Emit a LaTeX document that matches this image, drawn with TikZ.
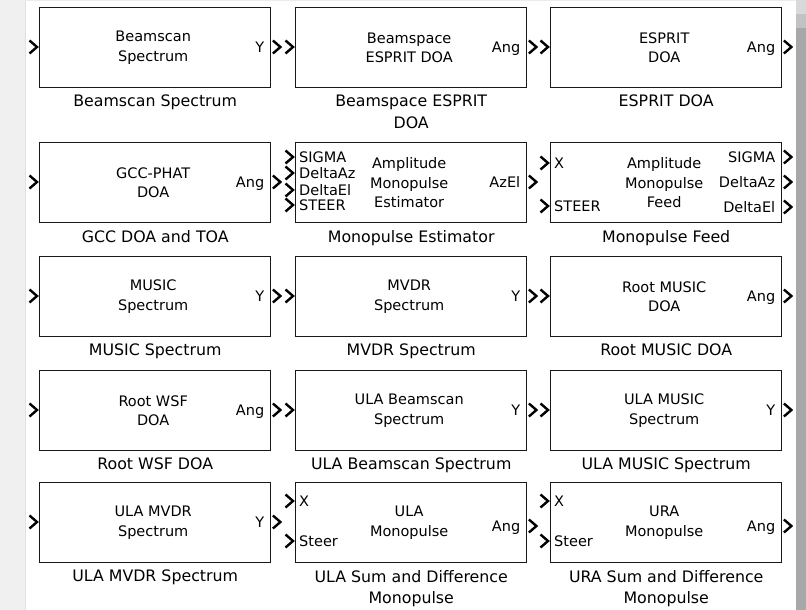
\documentclass[tikz,border=0pt]{standalone}
\usepackage{fontspec}
\setmainfont{DejaVu Sans}
\tikzset{
  blk/.style={draw=black!90, line width=1.4pt, fill=white, minimum width=231pt, minimum height=80pt, anchor=north west, inner sep=0pt},
  intext/.style={font=\fontsize{14.5}{19.5}\selectfont, align=center, text=black, inner sep=0pt},
  port/.style={font=\fontsize{14.5}{16}\selectfont, text=black, inner sep=0pt, text height=10.5pt, text depth=0pt},
  lbl/.style={font=\fontsize{15.8}{21.5}\selectfont, align=center, text=black, inner sep=0pt, anchor=north},
  chev/.style={line width=2.4pt, black, line join=miter, miter limit=10},
}
\newcommand\simblk[4]{%
  \node[blk] (#1) at (#2) {};
  \node[intext] (#1t) at ([shift={(-2,0)}]#1.center) {#3};
  \node[lbl] (#1l) at ([shift={(0,6.5)}]#1.south) {#4};}
\newcommand\ipt[2]{\draw[chev] ([shift={(-9.5,#2-6.5)}]#1.north west) -- ([shift={(-2,#2)}]#1.north west) -- ([shift={(-9.5,#2+6.5)}]#1.north west);}
\newcommand\opt[2]{\draw[chev] ([shift={(1.5,#2-6.5)}]#1.north east) -- ([shift={(9,#2)}]#1.north east) -- ([shift={(1.5,#2+6.5)}]#1.north east);}
\newcommand\ilab[3]{\node[port, anchor=west] (#1-#3) at ([shift={(4,#2)}]#1.north west) {#3};}
\newcommand\olab[3]{\node[port, anchor=east] (#1-#3) at ([shift={(-7,#2)}]#1.north east) {#3};}
\begin{document}
\begin{tikzpicture}[x=1pt, y=-1pt]
  \useasboundingbox (0,0) rectangle (806,610);
  % background
  \fill[white] (0,0) rectangle (806,610);
  \fill[black!6] (0,0) rectangle (25,610);
  \draw[black!12, line width=1pt] (25.5,0) -- (25.5,610);
  \fill[black!8] (25,0) rectangle (796,1.5);
  \fill[black!34] (796,0) rectangle (806,610);
  \fill[black!15] (796,0) rectangle (806,14);
  \fill[black!24] (796,14) rectangle (806,28);

  % row 1
  \simblk{b1}{39,7}{Beamscan\\Spectrum}{Beamscan Spectrum}
  \ipt{b1}{40} \opt{b1}{40} \olab{b1}{40}{Y}
  \simblk{b2}{295,7}{Beamspace\\ESPRIT DOA}{Beamspace ESPRIT\\DOA}
  \ipt{b2}{40} \opt{b2}{40} \olab{b2}{40}{Ang}
  \simblk{b3}{550,7}{ESPRIT\\DOA}{ESPRIT DOA}
  \ipt{b3}{40} \opt{b3}{40} \olab{b3}{40}{Ang}

  % row 2
  \simblk{b4}{39,142}{GCC-PHAT\\DOA}{GCC DOA and TOA}
  \ipt{b4}{40} \opt{b4}{40} \olab{b4}{40}{Ang}
  \simblk{b5}{295,142}{Amplitude\\Monopulse\\Estimator}{Monopulse Estimator}
  \ipt{b5}{15} \ipt{b5}{31} \ipt{b5}{48} \ipt{b5}{63}
  \ilab{b5}{15}{SIGMA} \ilab{b5}{31}{DeltaAz} \ilab{b5}{48}{DeltaEl} \ilab{b5}{63}{STEER}
  \opt{b5}{40} \olab{b5}{40}{AzEl}
  \simblk{b6}{550,142}{Amplitude\\Monopulse\\Feed}{Monopulse Feed}
  \ipt{b6}{21} \ipt{b6}{64}
  \ilab{b6}{21}{X} \ilab{b6}{64}{STEER}
  \opt{b6}{15} \opt{b6}{40} \opt{b6}{65}
  \olab{b6}{15}{SIGMA} \olab{b6}{40}{DeltaAz} \olab{b6}{65}{DeltaEl}

  % row 3
  \simblk{b7}{39,256}{MUSIC\\Spectrum}{MUSIC Spectrum}
  \ipt{b7}{40} \opt{b7}{40} \olab{b7}{40}{Y}
  \simblk{b8}{295,256}{MVDR\\Spectrum}{MVDR Spectrum}
  \ipt{b8}{40} \opt{b8}{40} \olab{b8}{40}{Y}
  \simblk{b9}{550,256}{Root MUSIC\\DOA}{Root MUSIC DOA}
  \ipt{b9}{40} \opt{b9}{40} \olab{b9}{40}{Ang}

  % row 4
  \simblk{b10}{39,370}{Root WSF\\DOA}{Root WSF DOA}
  \ipt{b10}{40} \opt{b10}{40} \olab{b10}{40}{Ang}
  \simblk{b11}{295,370}{ULA Beamscan\\Spectrum}{ULA Beamscan Spectrum}
  \ipt{b11}{40} \opt{b11}{40} \olab{b11}{40}{Y}
  \simblk{b12}{550,370}{ULA MUSIC\\Spectrum}{ULA MUSIC Spectrum}
  \ipt{b12}{40} \opt{b12}{40} \olab{b12}{40}{Y}

  % row 5
  \simblk{b13}{39,482}{ULA MVDR\\Spectrum}{ULA MVDR Spectrum}
  \ipt{b13}{40} \opt{b13}{40} \olab{b13}{40}{Y}
  \simblk{b14}{295,482}{ULA\\Monopulse}{ULA Sum and Difference\\Monopulse}
  \ipt{b14}{19} \ipt{b14}{59} \ilab{b14}{19}{X} \ilab{b14}{59}{Steer}
  \opt{b14}{44} \olab{b14}{44}{Ang}
  \simblk{b15}{550,482}{URA\\Monopulse}{URA Sum and Difference\\Monopulse}
  \ipt{b15}{19} \ipt{b15}{59} \ilab{b15}{19}{X} \ilab{b15}{59}{Steer}
  \opt{b15}{44} \olab{b15}{44}{Ang}
\end{tikzpicture}
\end{document}
